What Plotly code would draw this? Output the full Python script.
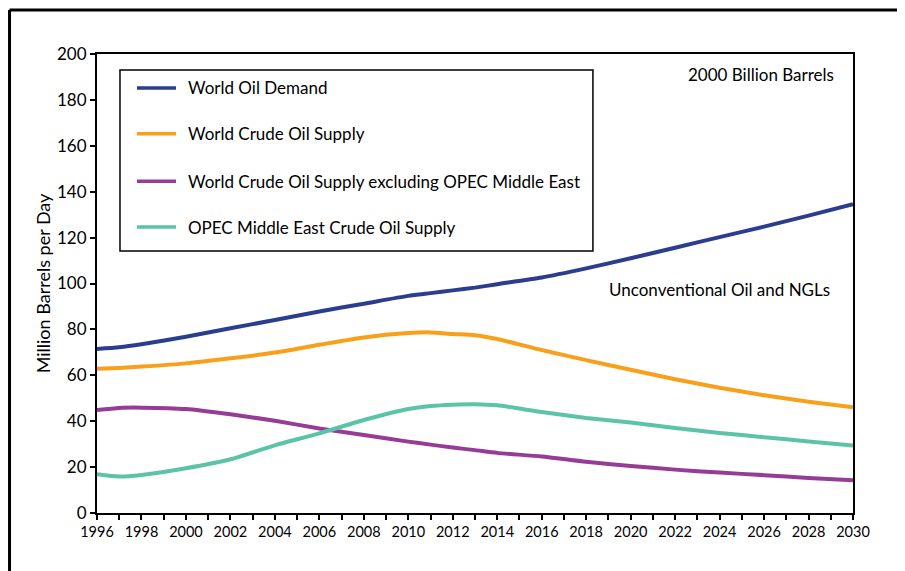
import plotly.graph_objects as go

years = [1996, 1997, 1998, 2000, 2002, 2004, 2006, 2008, 2010, 2011, 2012, 2013, 2014,
         2016, 2018, 2020, 2022, 2024, 2026, 2028, 2030]
world_demand = [71.5, 72.2, 73.5, 76.8, 80.5, 84.1, 87.8, 91.2, 94.6, 95.8, 97.0, 98.2, 99.7,
                102.6, 106.6, 111.0, 115.6, 120.2, 124.8, 129.6, 134.6]
world_supply = [62.8, 63.2, 63.8, 65.2, 67.4, 69.9, 73.3, 76.5, 78.4, 78.7, 78.0, 77.5, 75.8,
                71.0, 66.6, 62.4, 58.3, 54.6, 51.3, 48.5, 46.1]
supply_ex_opec_me = [44.9, 45.8, 45.9, 45.3, 43.0, 40.2, 36.8, 34.0, 31.1, 29.8, 28.5, 27.4, 26.2,
                     24.6, 22.3, 20.5, 18.9, 17.6, 16.5, 15.3, 14.3]
opec_me_supply = [16.9, 15.9, 16.6, 19.5, 23.4, 29.5, 34.7, 40.5, 45.3, 46.6, 47.2, 47.4, 46.9,
                  44.0, 41.4, 39.4, 37.0, 34.9, 33.0, 31.2, 29.4]

series_names = ["World Oil Demand", "World Crude Oil Supply",
                "World Crude Oil Supply excluding OPEC Middle East",
                "OPEC Middle East Crude Oil Supply"]
series_values = [world_demand, world_supply, supply_ex_opec_me, opec_me_supply]
colors = ["#2b3d8f", "#f9a01b", "#963c96", "#5bc4a8"]

x_tick_years = list(range(1996, 2031, 2))
y_ticks = list(range(0, 201, 20))

FONT = "Lato, 'Open Sans', sans-serif"

fig = go.Figure()
for i, (name, vals, col) in enumerate(zip(series_names, series_values, colors)):
    fig.add_trace(go.Scatter(
        x=years, y=vals, name=name, mode="lines",
        line=dict(color=col, width=4, shape="spline", smoothing=0.6),
        showlegend=False,
    ))

# legend drawn as a boxed key (paper coordinates)
legend_rows_y = [0.926, 0.826, 0.723, 0.623]
shapes = [
    dict(type="rect", xref="paper", yref="paper", x0=0.0304, x1=0.656, y0=0.571, y1=0.965,
         line=dict(color="black", width=1.5), fillcolor="white", layer="above"),
]
annotations = []
for name, col, ry in zip(series_names, colors, legend_rows_y):
    shapes.append(dict(type="line", xref="paper", yref="paper", x0=0.0529, x1=0.1045,
                       y0=ry, y1=ry, line=dict(color=col, width=3.5), layer="above"))
    annotations.append(dict(text=name, xref="paper", yref="paper", x=0.118, y=ry,
                            xanchor="left", yanchor="middle", showarrow=False,
                            font=dict(size=17, family=FONT, color="black")))

annotations += [
    dict(text="2000 Billion Barrels", xref="paper", yref="paper", x=0.977, y=0.956,
         xanchor="right", yanchor="middle", showarrow=False, font=dict(size=17, family=FONT)),
    dict(text="Unconventional Oil and NGLs", xref="paper", yref="paper", x=0.972, y=0.486,
         xanchor="right", yanchor="middle", showarrow=False, font=dict(size=17, family=FONT)),
]
# outer frame (top-left corner of the page border)
shapes += [
    dict(type="line", xref="paper", yref="paper", x0=-0.1157, x1=-0.1157, y0=1.0959, y1=-0.3,
         line=dict(color="black", width=3)),
    dict(type="line", xref="paper", yref="paper", x0=-0.1157, x1=1.3, y0=1.0959, y1=1.0959,
         line=dict(color="black", width=3)),
]

fig.update_layout(
    width=897, height=563,
    margin=dict(l=89, r=52, t=46, b=58),
    paper_bgcolor="white", plot_bgcolor="white",
    font=dict(family=FONT, color="black", size=16),
    showlegend=False,
    xaxis=dict(
        range=[1996, 2030], tickmode="array", tickvals=x_tick_years,
        ticktext=[str(y) for y in x_tick_years],
        ticks="outside", ticklen=5, tickwidth=1.5, tickcolor="black",
        minor=dict(dtick=1, tick0=1996, ticks="outside", ticklen=5, tickwidth=1.5, tickcolor="black"),
        showline=True, linecolor="black", linewidth=2, mirror=True,
        showgrid=False, zeroline=False,
        tickfont=dict(size=14.5, family=FONT),
    ),
    xaxis2=dict(
        range=[1996, 2030], overlaying="x", anchor="y", side="bottom",
        tickmode="linear", tick0=1996, dtick=1,
        ticks="inside", ticklen=5, tickwidth=1.5, tickcolor="black",
        showticklabels=False, showline=False, showgrid=False, zeroline=False,
    ),
    yaxis=dict(
        range=[0, 200], tickvals=y_ticks,
        ticks="outside", ticklen=5, tickwidth=1.5, tickcolor="black",
        showline=True, linecolor="black", linewidth=2, mirror=True,
        showgrid=False, zeroline=False,
        tickfont=dict(size=17, family=FONT),
        title=dict(text="Million Barrels per Day", font=dict(size=18, family=FONT), standoff=2),
    ),
    annotations=annotations,
    shapes=shapes,
)

fig.write_html("out.html")
